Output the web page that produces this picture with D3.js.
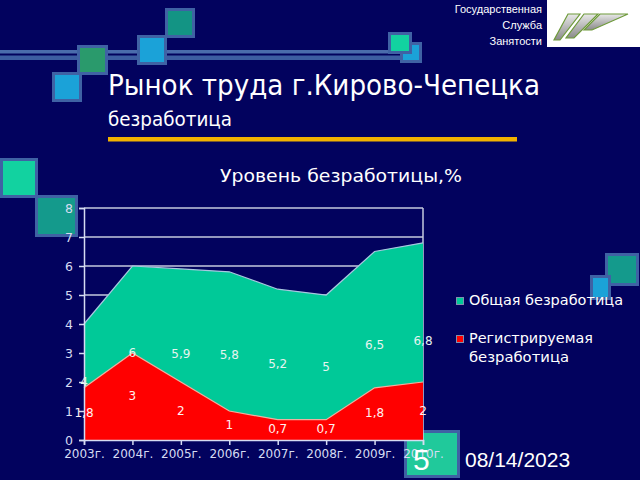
<!DOCTYPE html>
<html><head><meta charset="utf-8">
<script src="https://cdn.jsdelivr.net/npm/d3@7"></script>
<style>html,body{margin:0;padding:0;background:#02025e;overflow:hidden}</style>
</head><body>
<svg id="c" width="640" height="480"></svg>
<script>
const years = ["2003г.","2004г.","2005г.","2006г.","2007г.","2008г.","2009г.","2010г."];
const totalUnemp = [4, 6, 5.9, 5.8, 5.2, 5, 6.5, 6.8];
const registeredUnemp = [1.8, 3, 2, 1, 0.7, 0.7, 1.8, 2];
const yTicks = [0,1,2,3,4,5,6,7,8];
const seriesNames = ["Общая безработица", "Регистрируемая безработица"];

const svg = d3.select("#c");
const bg = "#02025e";
svg.append("rect").attr("width",640).attr("height",480).attr("fill",bg);

// decorative squares
const border = "#3f62a4";
function sq(x,y,w,h,fill){
  svg.append("rect").attr("x",x+1.5).attr("y",y+1.5).attr("width",w-3).attr("height",h-3)
    .attr("fill",fill).attr("stroke",border).attr("stroke-width",3);
}
// horizontal double line
svg.append("rect").attr("x",0).attr("y",50).attr("width",404).attr("height",3.5).attr("fill","#4a6cac");
svg.append("rect").attr("x",0).attr("y",55.5).attr("width",404).attr("height",4.5).attr("fill","#3d5ea2");
sq(165,8,30,30,"#139484");
sq(137,35,30,30,"#1ba2d8");
sq(77,45,31,30,"#2a9a6c");
sq(52,72,30,30,"#1ba2d8");
sq(400,42,22,21,"#1ba2d8");
sq(388,32,24,22,"#12d2a0");
sq(0,158,38,40,"#12d2a0");
sq(35,195,43,42,"#149a8c");
sq(605,253,34,33,"#149a8c");
sq(590,275,21,25,"#1ba2d8");
sq(404,430,56,48,"#20c99b");

// header block
const hdr = svg.append("g").attr("font-family","'Liberation Sans', Arial, sans-serif").attr("font-size",11).attr("fill","#ffffff").attr("text-anchor","end");
hdr.append("text").attr("x",542).attr("y",13).text("Государственная");
hdr.append("text").attr("x",542).attr("y",29).text("Служба");
hdr.append("text").attr("x",542).attr("y",45).text("Занятости");
svg.append("rect").attr("x",547).attr("y",0).attr("width",93).attr("height",47).attr("fill","#ffffff");
const lg = svg.append("defs").append("linearGradient").attr("id","lgg").attr("x1",0).attr("y1",0).attr("x2",0).attr("y2",1);
lg.append("stop").attr("offset","0%").attr("stop-color","#e8e8e8");
lg.append("stop").attr("offset","100%").attr("stop-color","#8a8a8a");
const logo = svg.append("g");
[[568,14,580,14,560,40,554,40],[584,14,598,14,574,38,566,38],[600,14,628,14,592,30,584,30]].forEach(p=>{
  logo.append("polygon").attr("points",[[p[0],p[1]],[p[2],p[3]],[p[4],p[5]],[p[6],p[7]]].map(d=>d.join(",")).join(" "))
    .attr("fill","url(#lgg)").attr("stroke","#6e9a3a").attr("stroke-width",1.2);
});

// titles
svg.append("text").attr("x",108).attr("y",95).attr("font-family","'DejaVu Sans', sans-serif").attr("font-size",29)
  .attr("fill","#ffffff").attr("textLength",432).attr("lengthAdjust","spacingAndGlyphs").text("Рынок труда г.Кирово-Чепецка");
svg.append("text").attr("x",108).attr("y",126).attr("font-family","'DejaVu Sans', sans-serif").attr("font-size",19)
  .attr("fill","#ffffff").attr("textLength",124).attr("lengthAdjust","spacingAndGlyphs").text("безработица");
svg.append("rect").attr("x",108).attr("y",137).attr("width",409).attr("height",4.5).attr("fill","#f2b200");
svg.append("text").attr("x",341).attr("y",182).attr("text-anchor","middle").attr("font-family","'DejaVu Sans', sans-serif").attr("font-size",17)
  .attr("fill","#ffffff").attr("textLength",242).attr("lengthAdjust","spacingAndGlyphs").text("Уровень безработицы,%");

// chart
const x = d3.scalePoint().domain(years).range([84,423]).padding(0);
const y = d3.scaleLinear().domain([0,8]).range([440,208]);
const axisCol = "#d6dcf2";
const grid = svg.append("g");
yTicks.filter(t=>t>0).forEach(t=>{
  grid.append("line").attr("x1",84).attr("x2",423).attr("y1",y(t)).attr("y2",y(t)).attr("stroke","#c4cade").attr("stroke-width",1.5);
});
grid.append("line").attr("x1",423).attr("x2",423).attr("y1",y(8)).attr("y2",y(0)).attr("stroke","#c4cade").attr("stroke-width",1.5);

const area = vals => d3.area().x((d,i)=>x(years[i])).y0(y(0)).y1(d=>y(d))(vals);
const line = vals => d3.line().x((d,i)=>x(years[i])).y(d=>y(d))(vals);
svg.append("path").attr("d",area(totalUnemp)).attr("fill","#00c998");
svg.append("path").attr("d",line(totalUnemp)).attr("fill","none").attr("stroke","#a8c8e0").attr("stroke-width",1.2);
svg.append("path").attr("d",area(registeredUnemp)).attr("fill","#ff0000");
svg.append("path").attr("d",line(registeredUnemp)).attr("fill","none").attr("stroke","#f0b0a0").attr("stroke-width",1.2);

// axes
const yAxis = svg.append("g").attr("transform","translate(84,0)")
  .call(d3.axisLeft(y).tickValues(yTicks).tickSize(5).tickPadding(6).tickFormat(d3.format("d")));
const xAxis = svg.append("g").attr("transform","translate(0,440)")
  .call(d3.axisBottom(x).tickSize(5).tickPadding(4));
[yAxis,xAxis].forEach(a=>{
  a.select(".domain").attr("stroke",axisCol).attr("stroke-width",1.5);
  a.selectAll(".tick line").attr("stroke",axisCol).attr("stroke-width",1.5);
  a.selectAll("text").attr("fill",axisCol).attr("font-family","'DejaVu Sans', sans-serif").attr("font-size",12.5);
});
xAxis.selectAll("text").attr("font-size",12);

// data labels (placed at half of value)
const fmt = v => String(v).replace(".",",");
const lab = svg.append("g").attr("font-family","'DejaVu Sans', sans-serif").attr("font-size",12).attr("text-anchor","middle").attr("dominant-baseline","middle");
totalUnemp.forEach((v,i)=>lab.append("text").attr("x",x(years[i])).attr("y",y(v/2)).attr("fill","#e6f4f0").text(fmt(v)));
registeredUnemp.forEach((v,i)=>lab.append("text").attr("x",x(years[i])).attr("y",y(v/2)).attr("fill","#fff0f0").text(fmt(v)));

// legend
const leg = svg.append("g").attr("font-family","'DejaVu Sans', sans-serif").attr("font-size",14).attr("fill","#ffffff");
leg.append("rect").attr("x",456.5).attr("y",297.5).attr("width",7).attr("height",7).attr("fill","#00c998").attr("stroke","#8090b0");
leg.append("text").attr("x",469).attr("y",305).attr("textLength",154).attr("lengthAdjust","spacingAndGlyphs").text(seriesNames[0]);
leg.append("rect").attr("x",456.5).attr("y",335.5).attr("width",7).attr("height",7).attr("fill","#ff0000").attr("stroke","#8090b0");
leg.append("text").attr("x",469).attr("y",343).attr("textLength",124).attr("lengthAdjust","spacingAndGlyphs").text("Регистрируемая");
leg.append("text").attr("x",469).attr("y",362).attr("textLength",100).attr("lengthAdjust","spacingAndGlyphs").text("безработица");

// footer
svg.append("text").attr("x",413).attr("y",470).attr("font-family","'Liberation Sans', Arial, sans-serif").attr("font-size",30).attr("fill","#ffffff").text("5");
svg.append("text").attr("x",465).attr("y",467).attr("font-family","'Liberation Sans', Arial, sans-serif").attr("font-size",21).attr("fill","#ffffff").text("08/14/2023");
</script>
</body></html>
